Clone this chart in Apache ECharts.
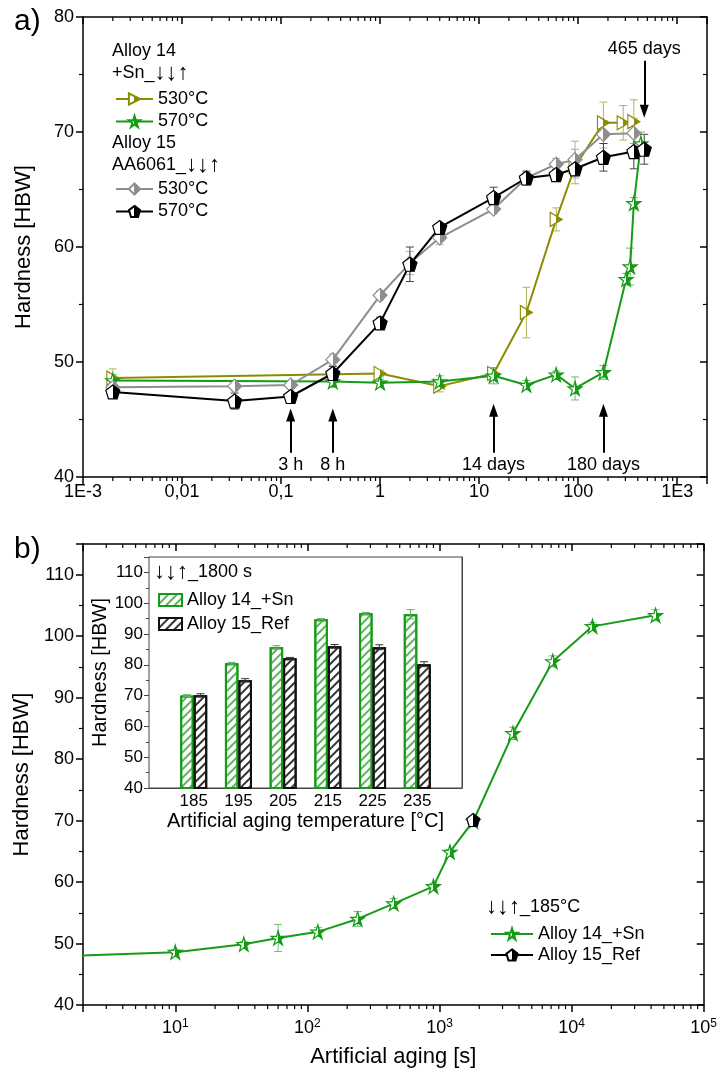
<!DOCTYPE html>
<html><head><meta charset="utf-8">
<script src="https://cdn.jsdelivr.net/npm/echarts@6/dist/echarts.min.js"></script>
<style>html,body{margin:0;padding:0;background:#fff}#c{width:720px;height:1073px}</style>
</head><body><div id="c"></div>
<script>
// ---------------- DATA ----------------
// panel a) : natural aging time [days] vs hardness [HBW]
const a14_530_t = [0.002, 1, 4, 14, 30, 60, 93, 180, 285, 365];
const a14_530_v = [48.6, 49.0, 47.9, 49.0, 54.3, 62.4, 67.0, 70.8, 70.8, 70.9];
const a14_530_e = [0.8, 0.3, 0.5, 0.5, 2.2, 1.0, 1.5, 1.8, 1.5, 1.9];

const a14_570_t = [0.002, 0.333, 1, 4, 14, 30, 60, 93, 180, 305, 335, 365, 430];
const a14_570_v = [48.4, 48.3, 48.2, 48.3, 48.8, 48.0, 48.9, 47.7, 49.1, 57.2, 58.3, 63.8, 69.0];
const a14_570_e = [0.5, 0.5, 0.3, 0.5, 0.7, 0.4, 0.3, 1.0, 0.6, 0.5, 1.6, 0.5, 1.0];

const a15_530_t = [0.002, 0.034, 0.125, 0.333, 1, 2, 4, 14, 30, 60, 93, 180, 365];
const a15_530_v = [47.8, 47.9, 48.0, 50.2, 55.8, 58.6, 60.8, 63.3, 66.0, 67.2, 67.6, 69.8, 69.9];
const a15_530_e = [0.5, 0.4, 0.3, 0.5, 0.4, 1.0, 0.6, 0.4, 0.5, 0.5, 1.6, 1.2, 1.3];

const a15_570_t = [0.002, 0.034, 0.125, 0.333, 1, 2, 4, 14, 30, 60, 93, 180, 365, 465];
const a15_570_v = [47.4, 46.6, 47.0, 49.0, 53.4, 58.5, 61.7, 64.3, 66.0, 66.3, 66.8, 67.8, 68.3, 68.5];
const a15_570_e = [0.3, 0.7, 0.3, 0.6, 0.5, 1.5, 0.3, 0.9, 0.6, 0.4, 0.5, 1.2, 1.5, 1.3];

// arrows in panel a)
const arrowTimes  = [0.125, 0.333, 14, 180, 465];
const arrowLabels = ['3 h', '8 h', '14 days', '180 days', '465 days'];
const arrowFrom   = [42.1, 42.1, 42.1, 42.1, 76.2];
const arrowTo     = [45.4, 45.4, 45.8, 45.8, 71.8];

const aTickVals   = [0.001, 0.01, 0.1, 1, 10, 100, 1000];
const aTickLabels = ['1E-3', '0,01', '0,1', '1', '10', '100', '1E3'];

// panel b) : artificial aging time [s] at 185°C
const b14_t = [1, 10, 33, 60, 120, 240, 450, 900, 1200, 1800, 3600, 7200, 14400, 43200];
const b14_v = [47.8, 48.6, 49.9, 50.9, 51.9, 54.0, 56.5, 59.3, 64.9, 69.9, 84.2, 95.9, 101.6, 103.4];
const b14_e = [0.3, 0.4, 0.4, 2.2, 0.7, 1.2, 0.8, 0.5, 0.4, 0.3, 1.0, 0.9, 0.6, 0.9];
const b15_t = [1800];
const b15_v = [70.1];

const bTickVals = [10, 100, 1000, 10000, 100000];
const bTickExp  = ['1', '2', '3', '4', '5'];

// inset : 1800 s at different temperatures
const insetTemps = [185, 195, 205, 215, 225, 235];
const insetA14   = [70.0, 80.5, 85.7, 94.8, 96.7, 96.4];
const insetA14e  = [0.3, 0.3, 0.5, 0.2, 0.3, 1.5];
const insetA15   = [70.1, 75.0, 82.1, 86.0, 85.7, 80.2];
const insetA15e  = [0.5, 0.5, 0.3, 0.6, 0.8, 0.8];

// ---------------- STYLE ----------------
const FONT = "'Liberation Sans', Arial, Helvetica, sans-serif";
const OLIVE = '#8c8c00', GREEN = '#169b16', GRAY = '#8e8e8e', BLACK = '#000000';
const SYM_TRI = 'path://M0,0L10,5L0,10Z';
const SYM_PENT = 'path://M5,0L10,3.6L8.1,9.5L1.9,9.5L0,3.6Z';
const SYM_STAR = 'path://M5,0L6.18,3.62L10,3.62L6.91,5.86L8.09,9.51L5,7.27L1.91,9.51L3.09,5.86L0,3.62L3.82,3.62Z';
const SYM_DIAM = 'path://M5,0L10,5L5,10L0,5Z';

function half(c) {
  return {type: 'linear', x: 0, y: 0, x2: 1, y2: 0, colorStops: [
    {offset: 0, color: '#fff'}, {offset: 0.5, color: '#fff'},
    {offset: 0.5, color: c}, {offset: 1, color: c}]};
}
const legendNames = {
  A14_530: '530°C', A14_570: '570°C', A15_530: '530°C', A15_570: '570°C',
  B14: 'Alloy 14_+Sn', B15: 'Alloy 15_Ref', I14: 'Alloy 14_+Sn', I15: 'Alloy 15_Ref'
};
function zip(t, v) { return t.map((x, i) => [x, v[i]]); }
function zip3(t, v, e) { return t.map((x, i) => [x, v[i], e[i]]); }

function lineSeries(name, xi, yi, t, v, color, symbol, size, extra) {
  return Object.assign({
    type: 'line', name: name, xAxisIndex: xi, yAxisIndex: yi,
    data: zip(t, v), symbol: symbol, symbolSize: size, showAllSymbol: true,
    lineStyle: {color: color, width: 2},
    itemStyle: {color: half(color), borderColor: color, borderWidth: 1.2},
    z: 3, clip: true
  }, extra || {});
}
function errRender(color, dx) {
  return function (params, api) {
    const x = api.value(0), y = api.value(1), e = api.value(2);
    const hi = api.coord([x, y + e]), lo = api.coord([x, y - e]);
    const cx = hi[0] + (dx || 0), w = 4;
    const st = {stroke: color, lineWidth: 1};
    return {type: 'group', children: [
      {type: 'line', shape: {x1: cx, y1: hi[1], x2: cx, y2: lo[1]}, style: st},
      {type: 'line', shape: {x1: cx - w, y1: hi[1], x2: cx + w, y2: hi[1]}, style: st},
      {type: 'line', shape: {x1: cx - w, y1: lo[1], x2: cx + w, y2: lo[1]}, style: st}
    ]};
  };
}
function errSeries(xi, yi, t, v, e, color, dx) {
  return {type: 'custom', xAxisIndex: xi, yAxisIndex: yi, silent: true, z: 1, clip: true,
    renderItem: errRender(color, dx), data: zip3(t, v, e), encode: {x: 0, y: 1}};
}
// log minor ticks (2..9 per decade) drawn through the axis scale
function logMinors(lo, hi) {
  const out = [];
  for (let k = Math.floor(Math.log10(lo)); k <= Math.ceil(Math.log10(hi)); k++) {
    for (let m = 2; m <= 9; m++) {
      const v = m * Math.pow(10, k);
      if (v > lo * 1.0001 && v < hi * 0.9999) out.push(v);
    }
  }
  return out;
}
function minorTickSeries(xi, yi, lo, hi, ymin, ymax) {
  return {type: 'custom', xAxisIndex: xi, yAxisIndex: yi, silent: true, z: 4,
    data: logMinors(lo, hi).map(v => [v, ymin]), encode: {x: 0, y: 1},
    renderItem: function (params, api) {
      const b = api.coord([api.value(0), ymin]);
      const t = api.coord([api.value(0), ymax]);
      const st = {stroke: '#000', lineWidth: 1.2};
      return {type: 'group', children: [
        {type: 'line', shape: {x1: b[0], y1: b[1], x2: b[0], y2: b[1] + 4}, style: st},
        {type: 'line', shape: {x1: t[0], y1: t[1], x2: t[0], y2: t[1] + 4}, style: st}
      ]};
    }};
}
const ARW = '{t|↓}{b|↓}{t|↑}';
const arwRich = {t: {fontSize: 22, fontFamily: FONT}, b: {fontSize: 24, fontWeight: 'bold', fontFamily: FONT}};
function gtext(x, y, text, size) {
  return {type: 'text', x: x, y: y, z: 100, style: {text: text, fontSize: size || 18, fontFamily: FONT,
    fill: '#000', verticalAlign: 'middle', align: 'left', rich: arwRich}};
}

const axisLineStyle = {show: true, lineStyle: {color: '#000', width: 1.5}};
const lab = {fontSize: 18, color: '#000', fontFamily: FONT};

const option = {
  animation: false,
  backgroundColor: '#fff',
  textStyle: {fontFamily: FONT},
  grid: [
    {left: 83, right: 13, top: 17, bottom: 596},
    {left: 83, right: 13, top: 544, bottom: 68},
    {left: 149, right: 258, top: 557, bottom: 285, show: true, backgroundColor: '#fff', borderColor: '#444', borderWidth: 1, z: 5}
  ],
  xAxis: [
    {type: 'log', gridIndex: 0, min: 0.001, max: 2000, logBase: 10, splitNumber: 7,
     axisLine: axisLineStyle, axisTick: {show: true, inside: false, length: 7, lineStyle: {width: 1.5}},
     splitLine: {show: false},
     axisLabel: Object.assign({margin: 6, formatter: function (v) {
       const i = aTickVals.findIndex(t => Math.abs(Math.log10(v) - Math.log10(t)) < 1e-6);
       return i >= 0 ? aTickLabels[i] : '';
     }}, lab)},
    {type: 'log', gridIndex: 0, position: 'top', min: 0.001, max: 2000, logBase: 10, splitNumber: 7,
     axisLine: axisLineStyle, axisTick: {show: true, inside: true, length: 7, lineStyle: {width: 1.5}},
     splitLine: {show: false}, axisLabel: {show: false}},
    {type: 'log', gridIndex: 1, min: 2, max: 100000, logBase: 10, splitNumber: 5,
     axisLine: axisLineStyle, axisTick: {show: true, inside: false, length: 7, lineStyle: {width: 1.5}},
     splitLine: {show: false},
     name: 'Artificial aging [s]', nameLocation: 'middle', nameGap: 41,
     nameTextStyle: {fontSize: 22, color: '#000', fontFamily: FONT},
     axisLabel: {margin: 13, color: '#000', fontFamily: FONT,
       rich: {m: {fontSize: 18, fontFamily: FONT, lineHeight: 20}, s: {fontSize: 12, fontFamily: FONT, verticalAlign: 'top', lineHeight: 20, padding: [0, 0, 6, 0]}},
       formatter: function (v) {
         const i = bTickVals.findIndex(t => Math.abs(Math.log10(v) - Math.log10(t)) < 1e-6);
         return i >= 0 ? '{m|10}{s|' + bTickExp[i] + '}' : '';
       }}},
    {type: 'log', gridIndex: 1, position: 'top', min: 2, max: 100000, logBase: 10, splitNumber: 5,
     axisLine: axisLineStyle, axisTick: {show: true, inside: true, length: 7, lineStyle: {width: 1.5}},
     splitLine: {show: false}, axisLabel: {show: false}},
    {type: 'value', gridIndex: 2, min: 175, max: 245, interval: 10,
     axisLine: {show: true, lineStyle: {color: '#444', width: 1}}, axisTick: {show: false},
     splitLine: {show: false},
     name: 'Artificial aging temperature [°C]', nameLocation: 'middle', nameGap: 23,
     nameTextStyle: {fontSize: 20, color: '#000', fontFamily: FONT},
     axisLabel: {margin: 5, fontSize: 17, color: '#000', fontFamily: FONT,
       formatter: v => (v >= 185 && v <= 235) ? String(v) : ''}}
  ],
  yAxis: [
    {type: 'value', gridIndex: 0, min: 40, max: 80, interval: 10,
     axisLine: axisLineStyle, axisTick: {show: true, inside: false, length: 7, lineStyle: {width: 1.5}},
     minorTick: {show: true, splitNumber: 2, length: 4, lineStyle: {color: '#000', width: 1.2}},
     splitLine: {show: false},
     name: 'Hardness [HBW]', nameLocation: 'middle', nameGap: 48,
     nameTextStyle: {fontSize: 22, color: '#000', fontFamily: FONT},
     axisLabel: Object.assign({margin: 9}, lab)},
    {type: 'value', gridIndex: 0, position: 'right', min: 40, max: 80, interval: 10,
     axisLine: axisLineStyle, axisTick: {show: true, inside: true, length: 7, lineStyle: {width: 1.5}},
     minorTick: {show: true, splitNumber: 2, length: 4, lineStyle: {color: '#000', width: 1.2}},
     splitLine: {show: false}, axisLabel: {show: false}},
    {type: 'value', gridIndex: 1, min: 40, max: 115, interval: 10,
     axisLine: axisLineStyle, axisTick: {show: true, inside: false, length: 7, lineStyle: {width: 1.5}},
     minorTick: {show: true, splitNumber: 2, length: 4, lineStyle: {color: '#000', width: 1.2}},
     splitLine: {show: false},
     name: 'Hardness [HBW]', nameLocation: 'middle', nameGap: 48,
     nameTextStyle: {fontSize: 22, color: '#000', fontFamily: FONT},
     axisLabel: Object.assign({margin: 9, formatter: v => v > 110 ? '' : String(v)}, lab)},
    {type: 'value', gridIndex: 1, position: 'right', min: 40, max: 115, interval: 10,
     axisLine: axisLineStyle, axisTick: {show: true, inside: true, length: 7, lineStyle: {width: 1.5}},
     minorTick: {show: true, splitNumber: 2, length: 4, lineStyle: {color: '#000', width: 1.2}},
     splitLine: {show: false}, axisLabel: {show: false}},
    {type: 'value', gridIndex: 2, min: 40, max: 115, interval: 10,
     axisLine: {show: true, lineStyle: {color: '#444', width: 1}},
     axisTick: {show: true, inside: false, length: 5, lineStyle: {color: '#444'}},
     minorTick: {show: true, splitNumber: 2, length: 3, lineStyle: {color: '#444'}},
     splitLine: {show: false},
     name: 'Hardness [HBW]', nameLocation: 'middle', nameGap: 35,
     nameTextStyle: {fontSize: 20, color: '#000', fontFamily: FONT},
     axisLabel: {margin: 6, fontSize: 17, color: '#000', fontFamily: FONT, formatter: v => v > 110 ? '' : String(v)}},
    {type: 'value', gridIndex: 2, position: 'right', min: 40, max: 115, interval: 10,
     axisLine: {show: true, lineStyle: {color: '#444', width: 1}},
     axisTick: {show: true, inside: true, length: 5, lineStyle: {color: '#444'}},
     minorTick: {show: true, splitNumber: 2, length: 3, lineStyle: {color: '#444'}},
     splitLine: {show: false}, axisLabel: {show: false}}
  ],
  legend: [
    {left: 110, top: 85, orient: 'vertical', itemWidth: 37, itemHeight: 14, itemGap: 4.5,
     data: ['A14_530', 'A14_570'], formatter: n => legendNames[n],
     textStyle: {fontSize: 18, color: '#000', fontFamily: FONT}, selectedMode: false},
    {left: 110, top: 175, orient: 'vertical', itemWidth: 37, itemHeight: 14, itemGap: 4.5,
     data: ['A15_530', 'A15_570'], formatter: n => legendNames[n],
     textStyle: {fontSize: 18, color: '#000', fontFamily: FONT}, selectedMode: false},
    {left: 485, top: 920, orient: 'vertical', itemWidth: 42, itemHeight: 14, itemGap: 3,
     data: ['B14', 'B15'], formatter: n => legendNames[n],
     textStyle: {fontSize: 18, color: '#000', fontFamily: FONT}, selectedMode: false},
    {left: 153, top: 586, orient: 'vertical', itemWidth: 23, itemHeight: 12, itemGap: 6, icon: 'rect',
     data: ['I14', 'I15'], formatter: n => legendNames[n], z: 20,
     textStyle: {fontSize: 18, color: '#000', fontFamily: FONT}, selectedMode: false}
  ],
  graphic: [
    gtext(14, 22, 'a)', 30),
    gtext(14, 550, 'b)', 30),
    gtext(112, 51, 'Alloy 14'),
    gtext(112, 73, '+Sn_' + ARW),
    gtext(112, 143, 'Alloy 15'),
    gtext(112, 165, 'AA6061_' + ARW),
    gtext(154, 572, ARW + '_1800 s'),
    gtext(486, 907, ARW + '_185°C')
  ],
  series: [
    // panel a) error bars
    errSeries(0, 0, a14_530_t, a14_530_v, a14_530_e, '#b3b35a'),
    errSeries(0, 0, a14_570_t, a14_570_v, a14_570_e, '#6cbf6c'),
    errSeries(0, 0, a15_530_t, a15_530_v, a15_530_e, '#b0b0b0'),
    errSeries(0, 0, a15_570_t, a15_570_v, a15_570_e, '#444444'),
    lineSeries('A14_530', 0, 0, a14_530_t, a14_530_v, OLIVE, SYM_TRI, [12, 14]),
    lineSeries('A14_570', 0, 0, a14_570_t, a14_570_v, GREEN, SYM_STAR, 14),
    lineSeries('A15_530', 0, 0, a15_530_t, a15_530_v, GRAY, SYM_DIAM, 14),
    lineSeries('A15_570', 0, 0, a15_570_t, a15_570_v, BLACK, SYM_PENT, 14, {
      markLine: {silent: true, symbol: ['none', 'triangle'], symbolSize: [9, 13],
        lineStyle: {color: '#000', width: 2, type: 'solid'},
        label: {show: true, position: 'start', distance: 3, formatter: '{b}', fontSize: 18, color: '#000', fontFamily: FONT},
        emphasis: {disabled: true},
        data: arrowTimes.map((t, i) => [
          {coord: [t, arrowFrom[i]], name: arrowLabels[i]},
          {coord: [t, arrowTo[i]]}
        ])}
    }),
    minorTickSeries(0, 0, 0.001, 2000, 40, 80),
    // panel b)
    errSeries(2, 2, b14_t, b14_v, b14_e, '#6cbf6c'),
    lineSeries('B14', 2, 2, b14_t, b14_v, GREEN, SYM_STAR, 14),
    lineSeries('B15', 2, 2, b15_t, b15_v, BLACK, SYM_PENT, 13),
    minorTickSeries(2, 2, 2, 100000, 40, 115),
    // inset bars
    {type: 'bar', name: 'I14', xAxisIndex: 4, yAxisIndex: 4, barWidth: 13.5, barGap: '0%', z: 6,
     data: zip(insetTemps, insetA14),
     itemStyle: {color: '#fff', borderColor: GREEN, borderWidth: 2,
       decal: {symbol: 'rect', symbolSize: 1, dashArrayX: [1, 0], dashArrayY: [1.2, 3.8], rotation: -Math.PI / 4, color: '#5bb55b'}}},
    {type: 'bar', name: 'I15', xAxisIndex: 4, yAxisIndex: 4, barWidth: 13.5, barGap: '0%', z: 6,
     data: zip(insetTemps, insetA15),
     itemStyle: {color: '#fff', borderColor: '#111', borderWidth: 2,
       decal: {symbol: 'rect', symbolSize: 1, dashArrayX: [1, 0], dashArrayY: [1.2, 3.8], rotation: -Math.PI / 4, color: '#333'}}},
    Object.assign(errSeries(4, 4, insetTemps, insetA14, insetA14e, '#5bb55b', -6.75), {z: 7}),
    Object.assign(errSeries(4, 4, insetTemps, insetA15, insetA15e, '#333333', 6.75), {z: 7})
  ]
};
const chart = echarts.init(document.getElementById('c'), null, {renderer: 'canvas'});
chart.setOption(option);
</script>
</body></html>
